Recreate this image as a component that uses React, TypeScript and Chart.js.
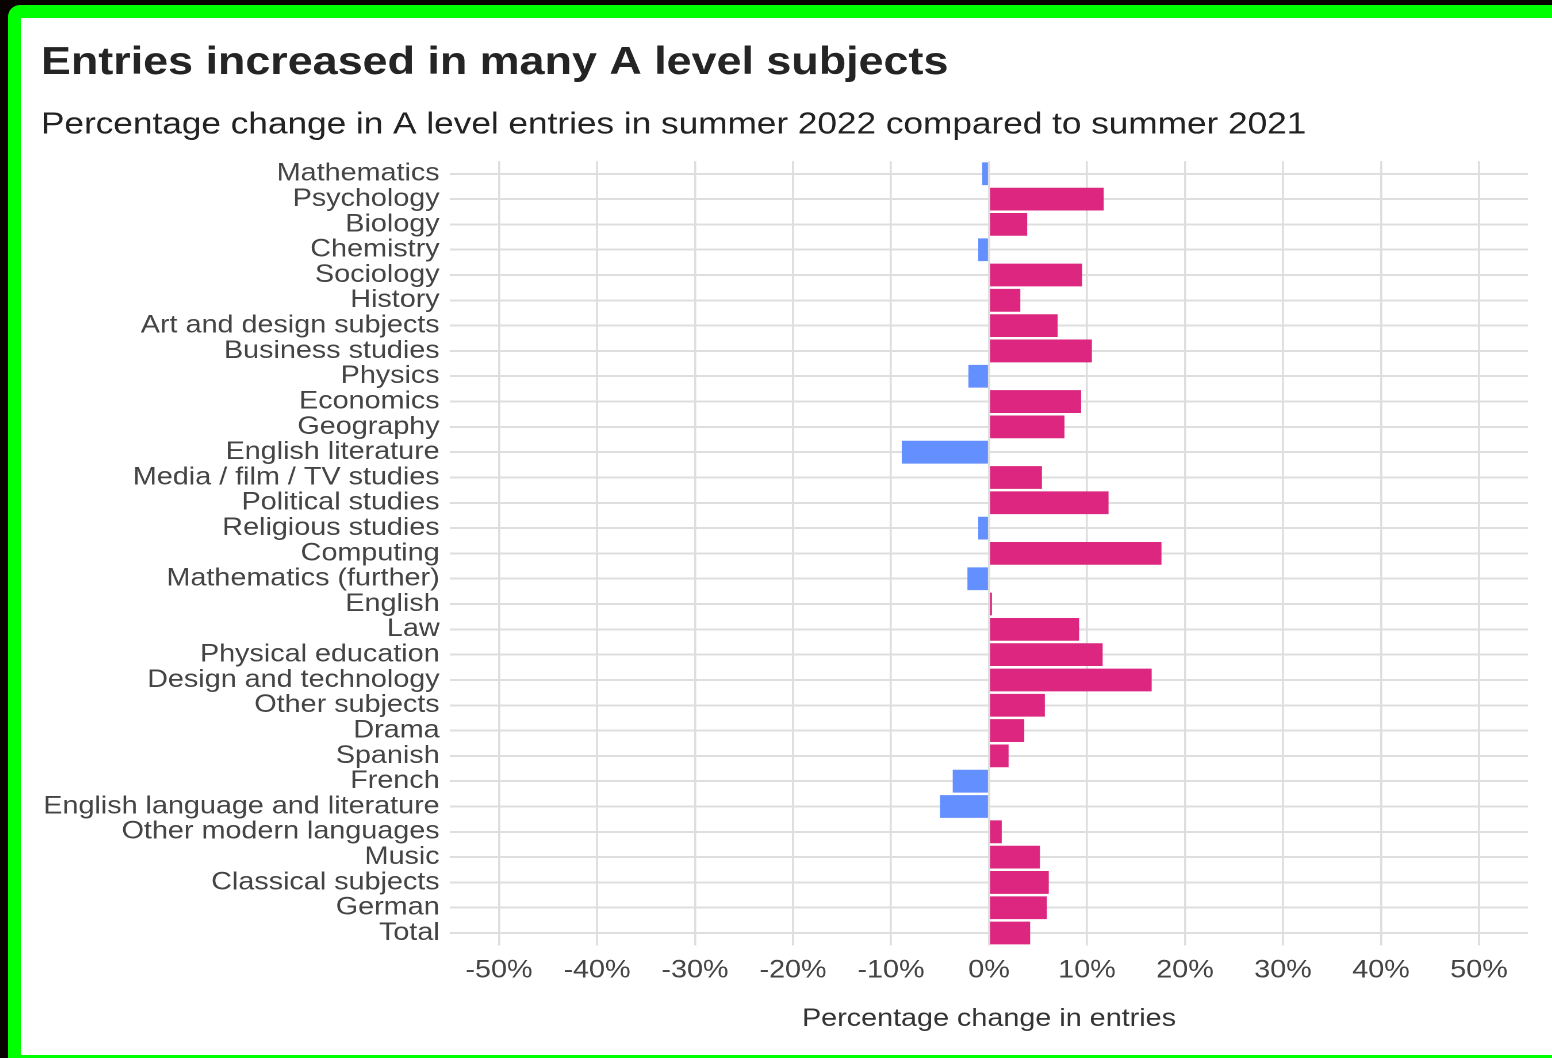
import React, { useEffect, useRef } from "react";
import { Chart, registerables } from "chart.js";

Chart.register(...registerables);

const categories = [
  "Mathematics",
  "Psychology",
  "Biology",
  "Chemistry",
  "Sociology",
  "History",
  "Art and design subjects",
  "Business studies",
  "Physics",
  "Economics",
  "Geography",
  "English literature",
  "Media / film / TV studies",
  "Political studies",
  "Religious studies",
  "Computing",
  "Mathematics (further)",
  "English",
  "Law",
  "Physical education",
  "Design and technology",
  "Other subjects",
  "Drama",
  "Spanish",
  "French",
  "English language and literature",
  "Other modern languages",
  "Music",
  "Classical subjects",
  "German",
  "Total",
];

const changes = [
  -0.7, 11.7, 3.9, -1.1, 9.5, 3.2, 7.0, 10.5, -2.1, 9.4, 7.7, -8.9, 5.4, 12.2,
  -1.1, 17.6, -2.2, 0.3, 9.2, 11.6, 16.6, 5.7, 3.6, 2.0, -3.7, -5.0, 1.3, 5.2,
  6.1, 5.9, 4.2,
];

const xTickValues = [-50, -40, -30, -20, -10, 0, 10, 20, 30, 40, 50];
const xMin = -55;
const xMax = 55;

const titleText = "Entries increased in many A level subjects";
const subtitleText =
  "Percentage change in A level entries in summer 2022 compared to summer 2021";
const xAxisTitle = "Percentage change in entries";

const POS_COLOR = "#DC267F";
const NEG_COLOR = "#648FFF";
const GRID = "#DEDEDE";
const FONT = "'Liberation Sans', Arial, Helvetica, sans-serif";

const STRETCH = 1.15;
const BOX_W = 1530;
const BOX_H = 1036;

export default function App() {
  const canvasRef = useRef<HTMLCanvasElement | null>(null);

  useEffect(() => {
    const canvas = canvasRef.current;
    if (!canvas) return;
    const innerW = BOX_W / STRETCH;
    const chartLeft = 428 / STRETCH;
    const padLeft = 19 / STRETCH;
    const padRight = innerW - 1506 / STRETCH;

    const chart = new Chart(canvas, {
      type: "bar",
      data: {
        labels: categories,
        datasets: [
          {
            data: changes,
            backgroundColor: changes.map((v) => (v < 0 ? NEG_COLOR : POS_COLOR)),
            borderWidth: 0,
            barPercentage: 0.9,
            categoryPercentage: 1.0,
          },
        ],
      },
      options: {
        indexAxis: "y",
        animation: false,
        responsive: true,
        maintainAspectRatio: false,
        devicePixelRatio: 2,
        layout: {
          padding: { left: padLeft, right: padRight, top: 0, bottom: 21 },
        },
        plugins: {
          legend: { display: false },
          tooltip: { enabled: false },
          title: {
            display: true,
            text: titleText,
            align: "start",
            color: "#242424",
            font: { family: FONT, size: 39, weight: "bold" },
            padding: { top: 21, bottom: 20 },
          },
          subtitle: {
            display: true,
            text: subtitleText,
            align: "start",
            color: "#222222",
            font: { family: FONT, size: 30.6 },
            padding: { top: 0, bottom: 17.6 },
          },
        },
        scales: {
          x: {
            type: "linear",
            min: xMin,
            max: xMax,
            afterBuildTicks: (scale: any) => {
              scale.ticks = xTickValues.map((v) => ({ value: v }));
            },
            border: { display: false },
            grid: {
              color: GRID,
              lineWidth: 1.8,
              drawTicks: false,
            },
            ticks: {
              padding: 10,
              color: "#444444",
              font: { family: FONT, size: 25 },
              callback: (v: any) => `${v}%`,
              maxRotation: 0,
              autoSkip: false,
            },
            title: {
              display: true,
              text: xAxisTitle,
              color: "#333333",
              font: { family: FONT, size: 25 },
              padding: { top: 8.3, bottom: 0 },
            },
          },
          y: {
            type: "category",
            offset: true,
            border: { display: false },
            grid: {
              color: GRID,
              lineWidth: 2,
              drawTicks: false,
              offset: false,
            },
            ticks: {
              padding: 9,
              color: "#444444",
              font: { family: FONT, size: 25 },
              autoSkip: false,
            },
            afterFit: (scale: any) => {
              scale.width = chartLeft - padLeft;
            },
          },
        },
      },
    });

    return () => {
      chart.destroy();
    };
  }, []);

  return (
    <div
      style={{
        position: "fixed",
        left: 0,
        top: 0,
        width: 1552,
        height: 1058,
        background: "#080300",
        overflow: "hidden",
      }}
    >
      <div
        style={{
          position: "absolute",
          left: 8,
          top: 5,
          width: 1600,
          height: 1100,
          background: "#00FF00",
          borderTopLeftRadius: 12,
        }}
      />
      <div
        style={{
          position: "absolute",
          left: 21,
          top: 18,
          width: 1600,
          height: 1055 - 18,
          background: "#FFFFFF",
        }}
      />
      <div
        style={{
          position: "absolute",
          left: 22,
          top: 19,
          width: BOX_W / STRETCH,
          height: BOX_H,
          transform: `scaleX(${STRETCH})`,
          transformOrigin: "0 0",
        }}
      >
        <canvas ref={canvasRef} />
      </div>
    </div>
  );
}
